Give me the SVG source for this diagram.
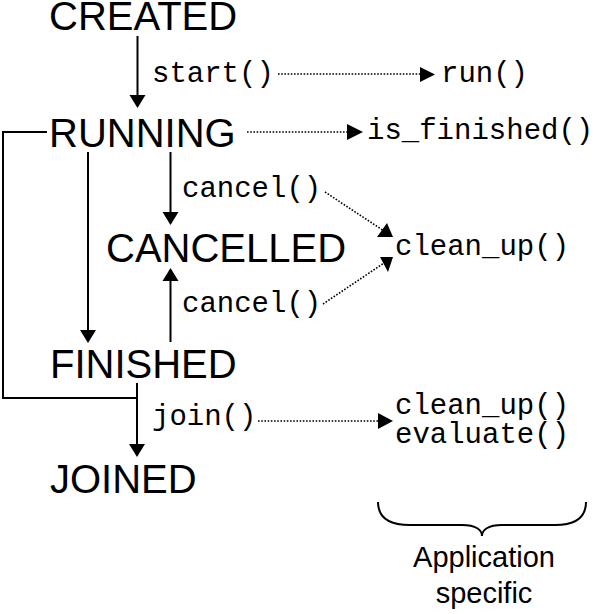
<svg xmlns="http://www.w3.org/2000/svg" width="597" height="614" viewBox="0 0 597 614">
<defs>
<style>
.state{font-family:"Liberation Sans",Arial,sans-serif;font-size:40px;fill:#000}
.code{font-family:"Liberation Mono","Courier New",monospace;font-size:29px;fill:#000}
.note{font-family:"Liberation Sans",Arial,sans-serif;font-size:29px;fill:#000;text-anchor:middle}
.solid{stroke:#000;stroke-width:2;fill:none}
.dot{stroke:#000;stroke-width:1.6;stroke-dasharray:1.6 1.6;fill:none}
.head{fill:#000}
</style>
</defs>
<rect width="597" height="614" fill="#fff"/>
<g id="node-created"><text class="state" x="49" y="30">CREATED</text></g>
<g id="node-running"><text class="state" x="49" y="147">RUNNING</text></g>
<g id="node-cancelled"><text class="state" x="106" y="262">CANCELLED</text></g>
<g id="node-finished"><text class="state" x="50" y="378">FINISHED</text></g>
<g id="node-joined"><text class="state" x="50" y="493">JOINED</text></g>
<g id="node-run"><text class="code" x="441" y="82">run()</text></g>
<g id="node-is-finished"><text class="code" x="367" y="139">is_finished()</text></g>
<g id="node-cleanup"><text class="code" x="395" y="255">clean_up()</text></g>
<g id="node-cleanup-evaluate"><text class="code" x="395" y="414">clean_up()</text><text class="code" x="395" y="443">evaluate()</text></g>
<g id="node-app-specific">
<path class="solid" d="M378,502 C378,518 390,525 410,525 L462,525 C476,525 482,530 482,536 C482,530 488,525 502,525 L555,525 C575,525 586,518 586,502"/>
<text class="note" x="484" y="567">Application</text>
<text class="note" x="484" y="603">specific</text>
</g>
<g id="connectors">
<line class="solid" x1="137.5" y1="36" x2="137.5" y2="96"/>
<polygon class="head" points="129.5,95 145.5,95 137.5,108"/>
<text class="code" x="152" y="82">start()</text>
<line class="dot" x1="278" y1="74" x2="420" y2="74"/>
<polygon class="head" points="420,67 420,82 435,74.5"/>
<line class="dot" x1="247" y1="132" x2="347" y2="132"/>
<polygon class="head" points="347,124 347,140 363,132"/>
<polyline class="solid" points="47,132 3,132 3,398 137,398"/>
<line class="solid" x1="88" y1="152" x2="88" y2="331"/>
<polygon class="head" points="80,330 96,330 88,343"/>
<line class="solid" x1="170.5" y1="152" x2="170.5" y2="213"/>
<polygon class="head" points="162.5,212 178.5,212 170.5,225"/>
<text class="code" x="182" y="197">cancel()</text>
<line class="solid" x1="170.5" y1="342" x2="170.5" y2="280"/>
<polygon class="head" points="162.5,281 178.5,281 170.5,268"/>
<text class="code" x="182" y="312">cancel()</text>
<line class="dot" x1="325" y1="192" x2="384" y2="231"/>
<polygon class="head" points="393,237 387,223 377,237"/>
<line class="dot" x1="323" y1="304" x2="384" y2="263"/>
<polygon class="head" points="393,257 380,257 388,272"/>
<line class="solid" x1="137" y1="383" x2="137" y2="445"/>
<polygon class="head" points="129,444 145,444 137,457"/>
<text class="code" x="152" y="425">join()</text>
<line class="dot" x1="258" y1="421" x2="378" y2="421"/>
<polygon class="head" points="378,413 378,429 393,421"/>
</g>
</svg>
